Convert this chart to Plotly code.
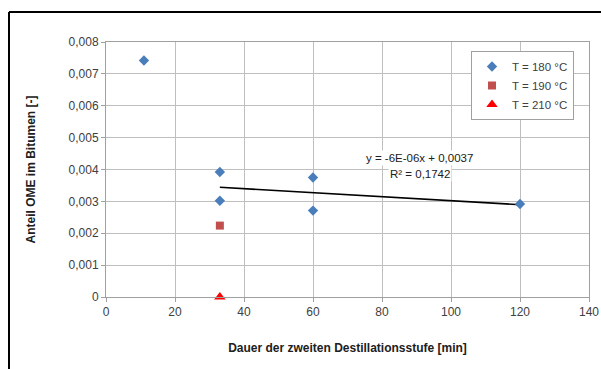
import numpy as np
import plotly.graph_objects as go

# Data
t180_x = [11, 33, 33, 60, 60, 120]
t180_y = [0.00742, 0.00392, 0.00302, 0.00375, 0.00271, 0.00292]
t190_x = [33]
t190_y = [0.00224]
t210_x = [33]
t210_y = [0.0]
trend_x = [33, 33, 60, 60, 120]
trend_y = [0.00392, 0.00302, 0.00375, 0.00271, 0.00292]

y_ticks = [0, 0.001, 0.002, 0.003, 0.004, 0.005, 0.006, 0.007, 0.008]
y_ticktext = ["0", "0,001", "0,002", "0,003", "0,004", "0,005", "0,006", "0,007", "0,008"]
x_ticks = [0, 20, 40, 60, 80, 100, 120, 140]

slope, intercept = np.polyfit(trend_x, trend_y, 1)
fit_x = np.array([min(trend_x), max(trend_x)])
fit_y = slope * fit_x + intercept

FONT = "Liberation Sans, Arial, sans-serif"

fig = go.Figure()
fig.add_trace(go.Scatter(x=list(fit_x), y=list(fit_y), mode="lines",
                         line=dict(color="black", width=1.6), showlegend=False, hoverinfo="skip"))
fig.add_trace(go.Scatter(x=t180_x, y=t180_y, mode="markers", name="T = 180 °C", cliponaxis=False,
                         marker=dict(symbol="diamond", size=8, color="#4a7ebb")))
fig.add_trace(go.Scatter(x=t190_x, y=t190_y, mode="markers", name="T = 190 °C", cliponaxis=False,
                         marker=dict(symbol="square", size=8, color="#c0504d")))
fig.add_trace(go.Scatter(x=t210_x, y=t210_y, mode="markers", name="T = 210 °C", cliponaxis=False,
                         marker=dict(symbol="triangle-up", size=10, color="#ff0000")))

ml, mr, mt, mb = 106, 12, 42, 72
W, H = 601, 369
pw, ph = W - ml - mr, H - mt - mb

fig.update_layout(
    width=W, height=H,
    margin=dict(l=ml, r=mr, t=mt, b=mb, autoexpand=False),
    paper_bgcolor="white", plot_bgcolor="white",
    font=dict(family=FONT, size=12, color="#404040"),
    separators=",.",
    xaxis=dict(range=[0, 140], tickvals=x_ticks, showgrid=True, gridcolor="#bfbfbf", gridwidth=1,
               showline=True, linecolor="#a0a0a0", linewidth=1, mirror=True, automargin=False,
               ticks="outside", ticklen=4, tickcolor="#a0a0a0", zeroline=False,
               tickfont=dict(size=12, color="#404040"),
               title=dict(text="<b>Dauer der zweiten Destillationsstufe [min]</b>",
                          font=dict(size=12, color="#202020"), standoff=25)),
    yaxis=dict(range=[0, 0.008], tickvals=y_ticks, ticktext=y_ticktext, showgrid=True,
               gridcolor="#bfbfbf", gridwidth=1, showline=True, linecolor="#a0a0a0", linewidth=1,
               mirror=True, ticks="outside", ticklen=4, tickcolor="#a0a0a0", zeroline=False,
               automargin=False,
               tickfont=dict(size=12, color="#404040"),
               title=dict(text="<b>Anteil OME im Bitumen [-]</b>",
                          font=dict(size=12, color="#202020"), standoff=30)),
    legend=dict(x=(471 - ml) / pw, y=(H - mb - 51) / ph, xanchor="left", yanchor="top",
                bgcolor="white", bordercolor="#a0a0a0", borderwidth=1,
                font=dict(size=11.5, color="#404040"), tracegroupgap=0, itemwidth=30),
    showlegend=True,
)

fig.add_annotation(x=91, y=0.00436, xref="x", yref="y",
                   text="y = -6E-06x + 0,0037",
                   showarrow=False, bgcolor="white", font=dict(size=11.5, color="#202020"))
fig.add_annotation(x=91, y=0.00386, xref="x", yref="y",
                   text="R² = 0,1742",
                   showarrow=False, bgcolor="white", font=dict(size=11.5, color="#202020"))

# outer frame (left and top borders)
x0 = (9 - ml) / pw
y0 = (H - mb - 12) / ph
fig.add_shape(type="line", xref="paper", yref="paper", x0=x0, y0=y0, x1=(W + 5 - ml) / pw, y1=y0,
              line=dict(color="black", width=2))
fig.add_shape(type="line", xref="paper", yref="paper", x0=x0, y0=y0, x1=x0, y1=-(mb + 5) / ph,
              line=dict(color="black", width=2))

fig.write_html("out.html")
